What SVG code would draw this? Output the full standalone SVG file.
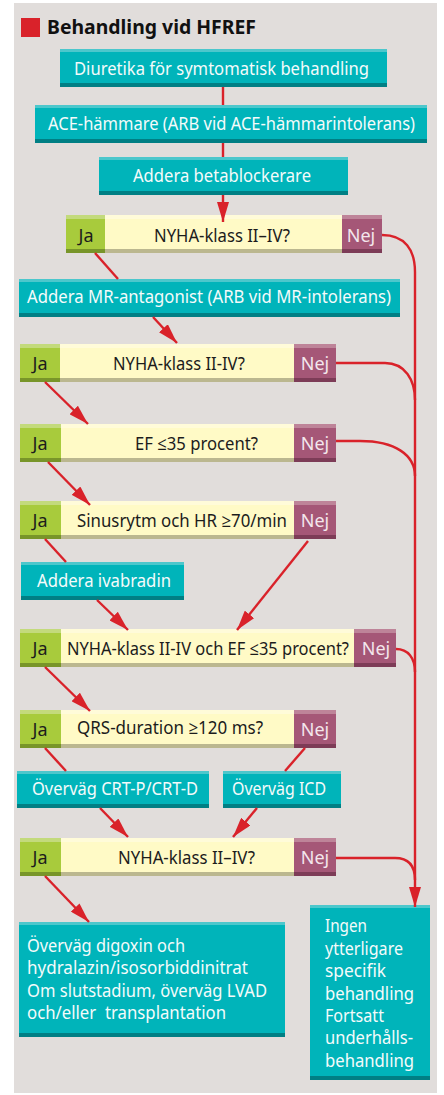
<svg xmlns="http://www.w3.org/2000/svg" width="444" height="1095" viewBox="0 0 444 1095">
<defs>
<style>
.bg{fill:#e1dddb}
.teal{fill:#00b4ba}.tealT{fill:#4cc7cc}.tealB{fill:#007f84}
.ja{fill:#a8cb3c}.jaT{fill:#c3da7c}.jaB{fill:#789529}
.q{fill:#fffac6}.qT{fill:#fffbd9}.qB{fill:#bbb78f}
.nej{fill:#a55777}.nejT{fill:#be8499}.nejB{fill:#7d3c57}
.ln{stroke:#d9222a;stroke-width:2.4;fill:none}
text{font-family:"Noto Sans","Open Sans","Liberation Sans",sans-serif;font-size:18px}
.w{fill:#f4fbfb}
.d{fill:#1c1c1c}
.nt{fill:#f3e6ec}
.c{text-anchor:middle}
</style>
<marker id="ah" viewBox="0 0 20 12" refX="20" refY="6" markerWidth="20" markerHeight="12" markerUnits="userSpaceOnUse" orient="auto">
<path d="M0,0 L20,6 L0,12 z" fill="#d9222a"/>
</marker>
</defs>
<rect x="0" y="0" width="444" height="1095" fill="#ffffff"/>
<rect class="bg" x="14" y="3" width="423" height="1090"/>
<g id="title">
<rect x="21" y="18" width="19" height="19" fill="#d9222a"/>
<text x="47" y="34" style="font-weight:bold;font-size:19px" fill="#111" textLength="209" lengthAdjust="spacingAndGlyphs">Behandling vid HFREF</text>
</g>

<g id="b1">
<rect class="teal" x="60" y="49" width="327" height="38"/>
<rect class="tealT" x="60" y="49" width="327" height="3"/>
<rect class="tealB" x="60" y="83" width="327" height="4"/>
<text class="w" x="74" y="75" textLength="295" lengthAdjust="spacingAndGlyphs">Diuretika för symtomatisk behandling</text>
</g>
<g id="b2">
<rect class="teal" x="35" y="105" width="392" height="38"/>
<rect class="tealT" x="35" y="105" width="392" height="3"/>
<rect class="tealB" x="35" y="139" width="392" height="4"/>
<text class="w" x="48" y="130" style="font-size:17.5px" textLength="367" lengthAdjust="spacingAndGlyphs">ACE-hämmare (ARB vid ACE-hämmarintolerans)</text>
</g>
<g id="b3">
<rect class="teal" x="99" y="157" width="249" height="38"/>
<rect class="tealT" x="99" y="157" width="249" height="3"/>
<rect class="tealB" x="99" y="191" width="249" height="4"/>
<text class="w" x="133" y="182" textLength="178" lengthAdjust="spacingAndGlyphs">Addera betablockerare</text>
</g>

<g id="d1">
<rect class="ja" x="66" y="215" width="39" height="38"/><rect class="jaT" x="66" y="215" width="39" height="4"/><rect class="jaB" x="66" y="249" width="39" height="4"/>
<rect class="q" x="105" y="215" width="237" height="38"/><rect class="qT" x="105" y="215" width="237" height="4"/><rect class="qB" x="105" y="249" width="237" height="4"/>
<rect class="nej" x="342" y="215" width="40" height="38"/><rect class="nejT" x="342" y="215" width="40" height="4"/><rect class="nejB" x="342" y="249" width="40" height="4"/>
<text class="d c" x="86" y="242">Ja</text>
<text class="d" x="154" y="242" textLength="136" lengthAdjust="spacingAndGlyphs">NYHA-klass II–IV?</text>
<text class="nt c" x="361" y="242">Nej</text>
</g>

<g id="mr">
<rect class="teal" x="19" y="279" width="381" height="38"/>
<rect class="tealT" x="19" y="279" width="381" height="3"/>
<rect class="tealB" x="19" y="313" width="381" height="4"/>
<text class="w" x="27" y="303" textLength="364" lengthAdjust="spacingAndGlyphs">Addera MR-antagonist (ARB vid MR-intolerans)</text>
</g>

<g id="d2">
<rect class="ja" x="20" y="344" width="40" height="38"/><rect class="jaT" x="20" y="344" width="40" height="4"/><rect class="jaB" x="20" y="378" width="40" height="4"/>
<rect class="q" x="60" y="344" width="234" height="38"/><rect class="qT" x="60" y="344" width="234" height="4"/><rect class="qB" x="60" y="378" width="234" height="4"/>
<rect class="nej" x="294" y="344" width="42" height="38"/><rect class="nejT" x="294" y="344" width="42" height="4"/><rect class="nejB" x="294" y="378" width="42" height="4"/>
<text class="d c" x="40" y="370">Ja</text>
<text class="d" x="113" y="370" textLength="132" lengthAdjust="spacingAndGlyphs">NYHA-klass II-IV?</text>
<text class="nt c" x="315" y="370">Nej</text>
</g>

<g id="d3">
<rect class="ja" x="20" y="424" width="41" height="38"/><rect class="jaT" x="20" y="424" width="41" height="4"/><rect class="jaB" x="20" y="458" width="41" height="4"/>
<rect class="q" x="61" y="424" width="233" height="38"/><rect class="qT" x="61" y="424" width="233" height="4"/><rect class="qB" x="61" y="458" width="233" height="4"/>
<rect class="nej" x="294" y="424" width="42" height="38"/><rect class="nejT" x="294" y="424" width="42" height="4"/><rect class="nejB" x="294" y="458" width="42" height="4"/>
<text class="d c" x="40" y="450">Ja</text>
<text class="d" x="135" y="450" textLength="123" lengthAdjust="spacingAndGlyphs">EF ≤35 procent?</text>
<text class="nt c" x="315" y="450">Nej</text>
</g>

<g id="d4">
<rect class="ja" x="20" y="501" width="41" height="38"/><rect class="jaT" x="20" y="501" width="41" height="4"/><rect class="jaB" x="20" y="535" width="41" height="4"/>
<rect class="q" x="61" y="501" width="233" height="38"/><rect class="qT" x="61" y="501" width="233" height="4"/><rect class="qB" x="61" y="535" width="233" height="4"/>
<rect class="nej" x="294" y="501" width="42" height="38"/><rect class="nejT" x="294" y="501" width="42" height="4"/><rect class="nejB" x="294" y="535" width="42" height="4"/>
<text class="d c" x="40" y="527">Ja</text>
<text class="d" x="77" y="527" textLength="210" lengthAdjust="spacingAndGlyphs">Sinusrytm och HR ≥70/min</text>
<text class="nt c" x="315" y="527">Nej</text>
</g>

<g id="iv">
<rect class="teal" x="21" y="562" width="163" height="38"/>
<rect class="tealT" x="21" y="562" width="163" height="3"/>
<rect class="tealB" x="21" y="596" width="163" height="4"/>
<text class="w" x="37" y="587" textLength="134" lengthAdjust="spacingAndGlyphs">Addera ivabradin</text>
</g>

<g id="d5">
<rect class="ja" x="20" y="629" width="41" height="38"/><rect class="jaT" x="20" y="629" width="41" height="4"/><rect class="jaB" x="20" y="663" width="41" height="4"/>
<rect class="q" x="61" y="629" width="293" height="38"/><rect class="qT" x="61" y="629" width="293" height="4"/><rect class="qB" x="61" y="663" width="293" height="4"/>
<rect class="nej" x="354" y="629" width="42" height="38"/><rect class="nejT" x="354" y="629" width="42" height="4"/><rect class="nejB" x="354" y="663" width="42" height="4"/>
<text class="d c" x="40" y="655">Ja</text>
<text class="d" x="67" y="655" textLength="282" lengthAdjust="spacingAndGlyphs">NYHA-klass II-IV och EF ≤35 procent?</text>
<text class="nt c" x="376" y="655">Nej</text>
</g>

<g id="d6">
<rect class="ja" x="20" y="710" width="41" height="38"/><rect class="jaT" x="20" y="710" width="41" height="4"/><rect class="jaB" x="20" y="744" width="41" height="4"/>
<rect class="q" x="61" y="710" width="233" height="38"/><rect class="qT" x="61" y="710" width="233" height="4"/><rect class="qB" x="61" y="744" width="233" height="4"/>
<rect class="nej" x="294" y="710" width="42" height="38"/><rect class="nejT" x="294" y="710" width="42" height="4"/><rect class="nejB" x="294" y="744" width="42" height="4"/>
<text class="d c" x="40" y="736">Ja</text>
<text class="d" x="77" y="734" textLength="186" lengthAdjust="spacingAndGlyphs">QRS-duration ≥120 ms?</text>
<text class="nt c" x="315" y="736">Nej</text>
</g>

<g id="crt">
<rect class="teal" x="17" y="771" width="192" height="37"/>
<rect class="tealT" x="17" y="771" width="192" height="3"/>
<rect class="tealB" x="17" y="804" width="192" height="4"/>
<text class="w" x="32" y="795" textLength="166" lengthAdjust="spacingAndGlyphs">Överväg CRT-P/CRT-D</text>
</g>
<g id="icd">
<rect class="teal" x="223" y="771" width="118" height="37"/>
<rect class="tealT" x="223" y="771" width="118" height="3"/>
<rect class="tealB" x="223" y="804" width="118" height="4"/>
<text class="w" x="232" y="795" textLength="94" lengthAdjust="spacingAndGlyphs">Överväg ICD</text>
</g>

<g id="d7">
<rect class="ja" x="20" y="838" width="41" height="38"/><rect class="jaT" x="20" y="838" width="41" height="4"/><rect class="jaB" x="20" y="872" width="41" height="4"/>
<rect class="q" x="61" y="838" width="233" height="38"/><rect class="qT" x="61" y="838" width="233" height="4"/><rect class="qB" x="61" y="872" width="233" height="4"/>
<rect class="nej" x="294" y="838" width="42" height="38"/><rect class="nejT" x="294" y="838" width="42" height="4"/><rect class="nejB" x="294" y="872" width="42" height="4"/>
<text class="d c" x="40" y="864">Ja</text>
<text class="d" x="118" y="864" textLength="137" lengthAdjust="spacingAndGlyphs">NYHA-klass II–IV?</text>
<text class="nt c" x="315" y="864">Nej</text>
</g>

<g id="bl">
<rect class="teal" x="19" y="922" width="266" height="115"/>
<rect class="tealT" x="19" y="922" width="266" height="3"/>
<rect class="tealB" x="19" y="1033" width="266" height="4"/>
<text class="w" x="27" y="952" textLength="158" lengthAdjust="spacingAndGlyphs">Överväg digoxin och</text>
<text class="w" x="27" y="974" textLength="221" lengthAdjust="spacingAndGlyphs">hydralazin/isosorbiddinitrat</text>
<text class="w" x="27" y="997" textLength="240" lengthAdjust="spacingAndGlyphs">Om slutstadium, överväg LVAD</text>
<text class="w" x="27" y="1019" textLength="199" lengthAdjust="spacingAndGlyphs">och/eller&#160; transplantation</text>
</g>

<g id="br">
<rect class="teal" x="310" y="905" width="120" height="175"/>
<rect class="tealT" x="310" y="905" width="120" height="3"/>
<rect class="tealB" x="310" y="1076" width="120" height="4"/>
<text class="w" x="325" y="932" textLength="42" lengthAdjust="spacingAndGlyphs">Ingen</text>
<text class="w" x="325" y="955" textLength="78" lengthAdjust="spacingAndGlyphs">ytterligare</text>
<text class="w" x="325" y="977" textLength="61" lengthAdjust="spacingAndGlyphs">specifik</text>
<text class="w" x="325" y="1000" textLength="89" lengthAdjust="spacingAndGlyphs">behandling</text>
<text class="w" x="325" y="1022" textLength="59" lengthAdjust="spacingAndGlyphs">Fortsatt</text>
<text class="w" x="325" y="1044" textLength="88" lengthAdjust="spacingAndGlyphs">underhålls-</text>
<text class="w" x="325" y="1067" textLength="89" lengthAdjust="spacingAndGlyphs">behandling</text>
</g>

<g id="connectors">
<path class="ln" d="M223,87 V105"/>
<path class="ln" d="M223,143 V157"/>
<path class="ln" d="M223,195 V222" marker-end="url(#ah)"/>
<path class="ln" d="M95,253 L118,279"/>
<path class="ln" d="M153,317 L177,343" marker-end="url(#ah)"/>
<path class="ln" d="M45,382 L88,424" marker-end="url(#ah)"/>
<path class="ln" d="M48,462 L90,505" marker-end="url(#ah)"/>
<path class="ln" d="M45,539 L66,562"/>
<path class="ln" d="M97,600 L128,630" marker-end="url(#ah)"/>
<path class="ln" d="M308,541 L237,630" marker-end="url(#ah)"/>
<path class="ln" d="M45,667 L90,711" marker-end="url(#ah)"/>
<path class="ln" d="M45,748 L66,771"/>
<path class="ln" d="M305,748 L285,771"/>
<path class="ln" d="M100,808 L128,837" marker-end="url(#ah)"/>
<path class="ln" d="M257,808 L233,837" marker-end="url(#ah)"/>
<path class="ln" d="M45,876 L89,922" marker-end="url(#ah)"/>
<path class="ln" d="M382,235 C405,235 415,250 415,272 V907" marker-end="url(#ah)"/>
<path class="ln" d="M336,363 H385 C405,363 415,380 415,400"/>
<path class="ln" d="M336,441 H360 C395,441 415,455 415,476"/>
<path class="ln" d="M396,649 C408,649 415,658 415,672"/>
<path class="ln" d="M336,858 H395 C408,858 415,865 415,880"/>
</g>
</svg>
